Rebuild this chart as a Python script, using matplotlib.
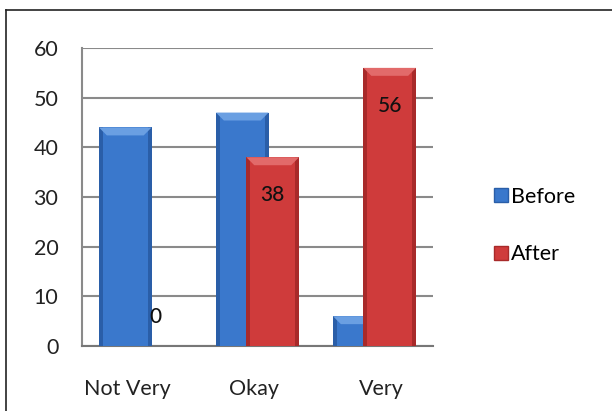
import numpy as np
import matplotlib
matplotlib.use('Agg')
import matplotlib.pyplot as plt
from matplotlib.patches import Rectangle, Polygon
from matplotlib.lines import Line2D

categories = ['Not Very', 'Okay', 'Very']
before = [44, 47, 6]
after = [0, 38, 56]
series_names = ['Before', 'After']

plt.rcParams['font.family'] = ['Lato', 'DejaVu Sans']

blue = '#3a78cc'
blue_dark = '#2a5ea8'
blue_light = '#6a9fe2'
red = '#cf3b3b'
red_dark = '#a82a2a'
red_light = '#e26a6a'

fig = plt.figure(figsize=(6.12, 4.11), dpi=100)

# outer frame of the chart area (right and bottom edges fall off the canvas)
fig.add_artist(Line2D([6 / 612, 6 / 612], [0, 1 - 10 / 411], color='#222222', lw=1.2,
                      transform=fig.transFigure))
fig.add_artist(Line2D([6 / 612, 1], [1 - 10 / 411, 1 - 10 / 411], color='#222222', lw=1.2,
                      transform=fig.transFigure))

ax = fig.add_axes([82 / 612, 1 - 346 / 411, (433 - 82) / 612, (346 - 48) / 411])

x = np.arange(len(categories))
width = 0.45
offset = 0.13


def bevel_bar(ax, xc, h, base, dark, light):
    if h <= 0:
        return
    left = xc - width / 2
    # darker sides, brighter middle
    ax.add_patch(Rectangle((left, 0), width, h, facecolor=dark, edgecolor='none', zorder=3))
    ax.add_patch(Rectangle((left + width * 0.07, 0), width * 0.86, h, facecolor=base,
                           edgecolor='none', zorder=3))
    # top bevel
    bev = min(1.6, h * 0.3)
    ax.add_patch(Polygon([(left, h), (left + width, h), (left + width * 0.85, h - bev),
                          (left + width * 0.15, h - bev)], closed=True, facecolor=light,
                         edgecolor='none', zorder=3))


for i in range(len(categories)):
    bevel_bar(ax, x[i] - offset, before[i], blue, blue_dark, blue_light)
for i in range(len(categories)):
    bevel_bar(ax, x[i] + offset, after[i], red, red_dark, red_light)

# value labels for the After series
for i, v in enumerate(after):
    ly = v - 7.6 if v > 10 else v + 5.8
    ax.text(x[i] + offset, ly, str(v), ha='center', va='center', fontsize=15,
            fontweight='medium', color='#111111', zorder=5)

ax.set_xlim(-0.5, 2.5)
ax.set_ylim(0, 60)
ax.set_yticks(range(0, 61, 10))
ax.set_xticks(x + np.array([-0.11, -0.03, 0.06]))
ax.set_xticklabels(categories)
ax.yaxis.grid(True, color='#8a8a8a', lw=1.5, zorder=1)
ax.set_axisbelow(True)
for s in ['top', 'right']:
    ax.spines[s].set_visible(False)
ax.spines['left'].set_color('#8a8a8a')
ax.spines['left'].set_linewidth(1.5)
ax.spines['bottom'].set_color('#777777')
ax.spines['bottom'].set_linewidth(1.5)
ax.tick_params(axis='both', length=0, labelsize=15.5, colors='#222222')
ax.tick_params(axis='y', pad=17)
ax.tick_params(axis='x', pad=24)

handles = [Rectangle((0, 0), 1, 1, facecolor=blue, edgecolor=blue_dark),
           Rectangle((0, 0), 1, 1, facecolor=red, edgecolor=red_dark)]
fig.legend(handles, series_names, loc='upper left', bbox_to_anchor=(485 / 612, 1 - 178 / 411),
           frameon=False, fontsize=15.5, handlelength=0.65, handleheight=0.65,
           handletextpad=0.15, labelspacing=1.75, borderaxespad=0)

fig.savefig('out.png', dpi=100)
